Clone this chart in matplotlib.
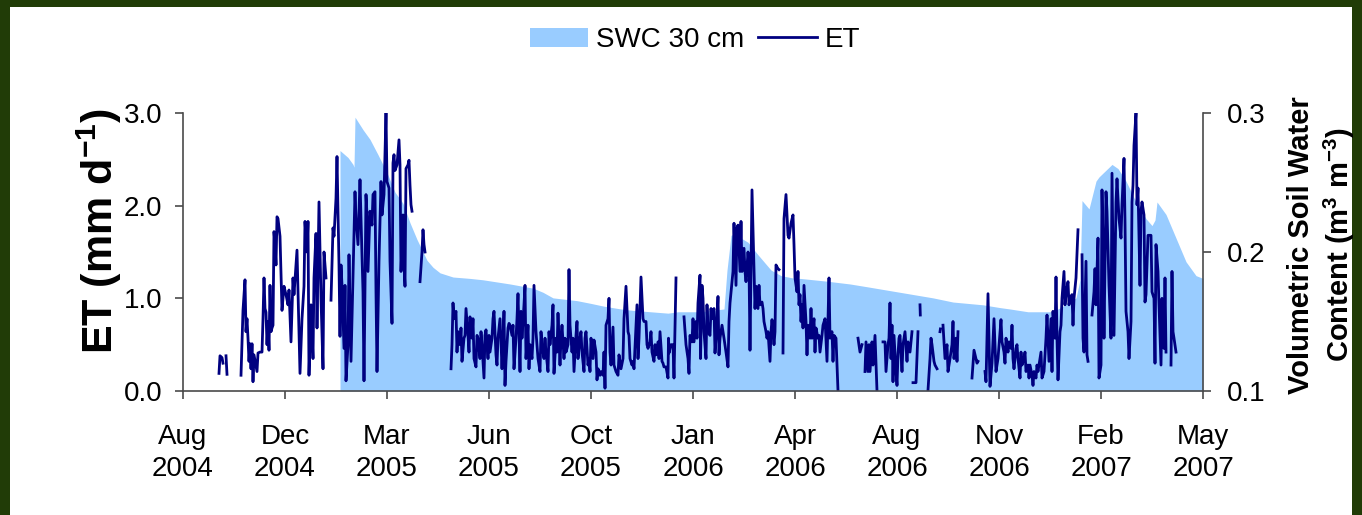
import math
import matplotlib
matplotlib.use("Agg")
import matplotlib.pyplot as plt
from matplotlib.patches import Rectangle

plt.rcParams['font.family'] = ['Liberation Sans', 'DejaVu Sans']
plt.rcParams['mathtext.fontset'] = 'custom'
plt.rcParams['mathtext.rm'] = 'Liberation Sans'
plt.rcParams['mathtext.bf'] = 'Liberation Sans:bold'
plt.rcParams['mathtext.it'] = 'Liberation Sans:italic'

# ---------------- data ----------------
# x = days since start of the axis (Aug 2004); ticks every 102 days
x_tick_days = [0, 102, 204, 306, 408, 510, 612, 714, 816, 918, 1020]
x_tick_labels = ["Aug\n2004", "Dec\n2004", "Mar\n2005", "Jun\n2005", "Oct\n2005",
                 "Jan\n2006", "Apr\n2006", "Aug\n2006", "Nov\n2006", "Feb\n2007", "May\n2007"]
et_ticks = [0.0, 1.0, 2.0, 3.0]
swc_ticks = [0.1, 0.2, 0.3]

# SWC 30 cm (m3 m-3)
swc_day = [157, 165, 170, 171, 172, 180, 187, 195, 204, 212, 220, 227, 234, 244, 250, 257,
           270, 287, 300, 327, 350, 360, 370, 394, 408, 421, 438, 450, 485, 495, 500, 517,
           541, 544, 548, 551, 565, 575, 588, 598, 612, 617, 644, 667, 684, 717, 750, 770,
           800, 817, 827, 845, 870, 880, 893, 897, 899, 906, 913, 916, 929, 935, 943, 953,
           963, 969, 972, 974, 983, 993, 1003, 1013, 1020]
swc_val = [0.273, 0.268, 0.263, 0.261, 0.297, 0.288, 0.281, 0.270, 0.257, 0.243, 0.235, 0.221,
           0.209, 0.194, 0.189, 0.185, 0.182, 0.181, 0.180, 0.177, 0.174, 0.171, 0.167, 0.165,
           0.163, 0.161, 0.159, 0.158, 0.156, 0.157, 0.157, 0.157, 0.159, 0.187, 0.212, 0.213,
           0.207, 0.198, 0.187, 0.183, 0.181, 0.181, 0.179, 0.177, 0.175, 0.171, 0.167, 0.164,
           0.162, 0.160, 0.159, 0.157, 0.157, 0.161, 0.167, 0.180, 0.237, 0.231, 0.251, 0.254,
           0.263, 0.260, 0.251, 0.236, 0.224, 0.219, 0.223, 0.236, 0.227, 0.210, 0.193, 0.183,
           0.181]

# ET (mm d-1); None marks a gap in the record
et_series = [
    (36, 0.19), (37, 0.38), (39, 0.36), (40, 0.30), None,
    (43, 0.38), (44, 0.18), None,
    (58, 0.17), (60, 0.87), (62, 1.20), (63, 0.64), (64, 0.78), (65, 0.57), (66, 0.32),
    (67, 0.51), (68, 0.24), (69, 0.51), (70, 0.10), (71, 0.39), (72, 0.33), (74, 0.21),
    (75, 0.41), (77, 0.42), (79, 0.42), (80, 0.78), (81, 1.22), (82, 0.89), (83, 0.85),
    (84, 0.50), (85, 0.75), (86, 0.44), (87, 1.14), (88, 0.64), (89, 0.68), (90, 0.71),
    (91, 1.72), (92, 1.58), (93, 1.36), (94, 1.88), (95, 1.86), (97, 1.67), (99, 0.87),
    (101, 1.13), (103, 1.04), (105, 0.93), (106, 1.09), (108, 0.53), (110, 1.22),
    (111, 1.04), (113, 1.36), (114, 1.52), (116, 0.60), (117, 0.19), (119, 0.78),
    (121, 1.13), (122, 1.83), (124, 1.50), (125, 1.83), (126, 0.17), (128, 0.93),
    (130, 0.35), (131, 1.22), (133, 1.70), (134, 0.68), (136, 2.04), (138, 1.00),
    (140, 0.24), (141, 1.50), (143, 1.22), None,
    (148, 0.98), (150, 1.76), (151, 1.67), (153, 2.08), (154, 2.53), (156, 1.36),
    (157, 0.59), (158, 1.36), (159, 1.14), (161, 0.46), (162, 1.14), (163, 0.11),
    (165, 0.50), (166, 1.47), (167, 0.89), (168, 0.32), (170, 1.25), (172, 2.15),
    (173, 1.86), (175, 1.58), (177, 2.28), (178, 1.86), (180, 1.07), (181, 0.11),
    (183, 2.12), (184, 1.90), (185, 1.29), (187, 1.94), (189, 1.79), (190, 2.12),
    (192, 2.15), (193, 1.07), (194, 0.21), (196, 1.40), (198, 2.26), (199, 1.90),
    (201, 2.12), (203, 3.00), (204, 2.26), (206, 2.19), (207, 1.40), (209, 0.73),
    (210, 2.46), (211, 2.55), (212, 2.38), (214, 2.44), (216, 2.71), (217, 2.44),
    (218, 1.29), (220, 1.90), (221, 1.36), (222, 1.13), (223, 2.40), (225, 2.44),
    (226, 2.49), (227, 2.22), (228, 2.01), (229, 1.94), None,
    (237, 1.18), (239, 1.50), (240, 1.74), (241, 1.58), (242, 1.50), None,
    (268, 0.24), (269, 0.50), (270, 0.95), (271, 0.78), (273, 0.86), (274, 0.42),
    (275, 0.64), (277, 0.50), (278, 0.68), (279, 0.32), (281, 0.57), (282, 0.60),
    (283, 0.89), (285, 0.60), (286, 0.42), (287, 0.80), (289, 0.57), (290, 0.78),
    (291, 0.35), (293, 0.26), (294, 0.60), (295, 0.57), (297, 0.35), (298, 0.64),
    (299, 0.50), (301, 0.14), (302, 0.60), (303, 0.66), (305, 0.35), (306, 0.60),
    (307, 0.42), (309, 0.57), (310, 0.78), (311, 0.86), (313, 0.39), (314, 0.28),
    (315, 0.57), (317, 0.78), (318, 0.53), (319, 0.24), (321, 0.86), (322, 0.06),
    (323, 0.32), (325, 0.68), (326, 0.73), (327, 0.71), (329, 0.60), (330, 0.71),
    (331, 0.24), (333, 0.57), (334, 0.78), (335, 1.05), (337, 0.21), (338, 0.86),
    (339, 0.57), (341, 0.93), (342, 1.14), (343, 0.35), (345, 0.71), (346, 0.24),
    (347, 0.50), (349, 0.35), (350, 0.57), (351, 1.14), (353, 0.64), (354, 0.50),
    (355, 0.35), (357, 0.21), (358, 0.64), (359, 0.50), (361, 0.35), (362, 0.57),
    (363, 0.42), (365, 0.21), (366, 0.64), (367, 0.50), (369, 0.71), (370, 0.93),
    (371, 0.19), (373, 0.57), (374, 0.42), (375, 0.84), (377, 0.28), (378, 0.57),
    (379, 0.71), (381, 0.35), (382, 0.57), (383, 0.42), (385, 0.50), (386, 1.31),
    (387, 0.71), (389, 0.42), (390, 0.57), (391, 0.21), (393, 0.60), (394, 0.75),
    (395, 0.35), (397, 0.57), (398, 0.64), (399, 0.42), (401, 0.21), (402, 0.57),
    (403, 0.64), (405, 0.28), (406, 0.35), (407, 0.21), (408, 0.57), (410, 0.35),
    (411, 0.55), (413, 0.42), (414, 0.12), (415, 0.24), (417, 0.17), (418, 0.21),
    (420, 0.17), (421, 0.42), (422, 0.03), (423, 0.71), (425, 0.78), (426, 1.00),
    (427, 0.42), (428, 0.28), (430, 0.69), (431, 0.28), (433, 0.21), (435, 0.17),
    (436, 0.39), (438, 0.24), (440, 0.35), (441, 0.78), (443, 1.13), (445, 0.64),
    (446, 0.60), (447, 0.35), (449, 0.28), (450, 0.32), (451, 0.24), (453, 0.71),
    (454, 0.93), (455, 0.35), (456, 0.57), (458, 1.23), (460, 0.78), (461, 0.75),
    (463, 0.75), (464, 0.50), (465, 0.46), (467, 0.53), (468, 0.64), (469, 0.42),
    (471, 0.32), (472, 0.50), (473, 0.39), (475, 0.53), (476, 0.35), (477, 0.64),
    (479, 0.32), (480, 0.30), (481, 0.26), (483, 0.26), (485, 0.14), (485.5, 0.57),
    (486, 0.41), (488, 0.50), (490, 0.50), (491, 0.14), (492, 0.71), (493, 1.22), None,
    (501, 0.80), (503, 0.50), (505, 0.35), (506, 0.19), (507, 0.60), (509, 0.53),
    (510, 0.78), (511, 0.53), (513, 0.75), (514, 0.57), (515, 0.95), (517, 1.25),
    (517.5, 0.35), (519, 1.14), (520, 1.00), (521, 0.64), (523, 0.35), (524, 0.93),
    (525, 0.64), (527, 0.60), (528, 0.89), (529, 0.78), (531, 0.89), (532, 0.41),
    (533, 0.57), (535, 1.02), (536, 0.39), (537, 0.57), (539, 0.71), (540, 0.64),
    (541, 0.57), (543, 0.42), (545, 0.26), (546, 0.75), (547, 0.95), (550, 1.29),
    (551, 1.81), (553, 1.14), (554, 1.76), (555, 1.79), (557, 1.29), (558, 1.83),
    (559, 1.29), (561, 1.54), (562, 1.29), (563, 1.18), (565, 1.50), (566, 1.36),
    (567, 0.44), (569, 2.17), (571, 1.29), (572, 0.89), (573, 1.13), (575, 0.89),
    (576, 1.14), (577, 0.93), (579, 0.96), (580, 0.89), (581, 0.75), (583, 0.64),
    (584, 0.57), (585, 0.64), (587, 0.32), (588, 0.64), (589, 0.77), (591, 0.50),
    (592, 0.64), (593, 1.36), (595, 1.32), (596, 1.31), None,
    (600, 0.41), (601, 1.86), (603, 2.12), (605, 1.68), (606, 1.65), (608, 1.81),
    (610, 1.90), (611, 1.58), (612, 1.22), (614, 1.07), (615, 1.29), (616, 0.93),
    (617, 1.04), (618, 0.75), (619, 0.93), (620, 0.68), (621, 1.14), (623, 0.75),
    (624, 0.39), (625, 0.71), (627, 0.57), (628, 0.89), (629, 0.57), (631, 0.78),
    (632, 0.42), (633, 0.68), (635, 0.57), (636, 0.60), (637, 0.42), (639, 0.60),
    (640, 0.71), (642, 0.78), (644, 0.32), (645, 0.78), (646, 1.22), (647, 0.57),
    (649, 0.64), (650, 0.32), (651, 0.60), (653, 0.57), (655, 0.00), None,
    (675, 0.57), (677, 0.42), (679, 0.50), None,
    (682, 0.21), (683, 0.53), (685, 0.21), (686, 0.50), (687, 0.21), (689, 0.53),
    (690, 0.28), (692, 0.60), (694, 0.00), None,
    (700, 0.53), (702, 0.53), (703, 0.21), (705, 0.50), (706, 0.57), (707, 0.95),
    (708, 0.35), (709, 0.71), (710, 0.10), (711, 0.60), (713, 0.21), (714, 0.06),
    (715, 0.39), (716, 0.57), (717, 0.60), (719, 0.21), (720, 0.50), (722, 0.64),
    (724, 0.32), (725, 0.53), (727, 0.42), (729, 0.64), None,
    (730, 0.09), (733, 0.09), (735, 0.64), None,
    (737, 0.93), (737.3, 0.82), None,
    (745, 0.01), (747, 0.35), (748, 0.57), (749, 0.50), (751, 0.32), (752, 0.28),
    (754, 0.24), None,
    (757, 0.64), (757.4, 0.67), None,
    (760, 0.71), (762, 0.35), (764, 0.50), (765, 0.21), (767, 0.35), (769, 0.50),
    (770, 0.75), (771, 0.35), (773, 0.57), (774, 0.32), (775, 0.64), None,
    (789, 0.14), (791, 0.44), (794, 0.30), (795, 0.32), None,
    (802, 0.21), (803, 0.10), (805, 1.05), (807, 0.05), (809, 0.30), (811, 0.78),
    (813, 0.21), (815, 0.35), (818, 0.77), (819, 0.53), (821, 0.42), (822, 0.30),
    (823, 0.57), (825, 0.42), (826, 0.53), (828, 0.46), (829, 0.71), (830, 0.35),
    (831, 0.24), (833, 0.46), (834, 0.50), (835, 0.35), (837, 0.14), (838, 0.42),
    (839, 0.28), (841, 0.35), (842, 0.42), (843, 0.21), (845, 0.28), (846, 0.14),
    (847, 0.28), (849, 0.17), (850, 0.06), (851, 0.21), (853, 0.14), (854, 0.28),
    (855, 0.21), (857, 0.35), (858, 0.42), (859, 0.14), (861, 0.21), (863, 0.57),
    (864, 0.82), (866, 0.32), (868, 0.78), (869, 0.21), (870, 0.86), (872, 0.57),
    (873, 1.23), (874, 0.57), (875, 0.12), (877, 0.64), (878, 0.71), (879, 1.00),
    (881, 1.29), (882, 0.93), (883, 1.04), (885, 1.18), (886, 0.93), (887, 1.00),
    (889, 1.04), (890, 0.71), (891, 1.00), (893, 1.22), (895, 1.74), None,
    (899, 1.47), (900, 0.57), (901, 0.42), (903, 1.40), (904, 0.39), (905, 0.32), None,
    (909, 0.82), (911, 1.07), (912, 1.32), (913, 0.93), (915, 1.65), (916, 0.14),
    (918, 0.28), (919, 2.17), (920, 1.58), (921, 0.57), (923, 2.15), (924, 1.94),
    (926, 1.14), (928, 0.57), (929, 2.35), (931, 0.60), (933, 2.04), (934, 2.29),
    (936, 1.86), (938, 1.65), (939, 2.01), (941, 2.51), (942, 1.83), (943, 0.86),
    (945, 0.64), (946, 0.35), (948, 0.75), (949, 2.04), (950, 2.22), (951, 2.65),
    (953, 3.00), (954, 2.01), (955, 2.19), (957, 1.14), (958, 1.94), (959, 2.04),
    (961, 1.90), (962, 0.96), (963, 1.04), (965, 1.68), (968, 1.68), (969, 1.07),
    (971, 1.00), (972, 0.30), (973, 1.58), (975, 1.29), (976, 0.93), (978, 0.28),
    (979, 1.00), (981, 0.46), (982, 1.22), (983, 0.42), None,
    (988, 0.28), (989, 1.29), (990, 0.64), (991, 0.57), (993, 0.42),
]

et_day = [p[0] if p else math.nan for p in et_series]
et_mm = [p[1] if p else math.nan for p in et_series]

# ---------------- figure ----------------
W, H = 1362, 515
fig = plt.figure(figsize=(W / 100, H / 100), dpi=100, facecolor='#213c07')
fig.patches.append(Rectangle((10 / W, 0), 1342 / W, 508 / H, transform=fig.transFigure,
                             facecolor='white', edgecolor='none', zorder=-10))

ax = fig.add_axes([183 / W, 124 / H, 1020 / W, 278 / H])
ax2 = ax.twinx()

swc_col = '#99CCFF'
et_col = '#000080'
spine_col = '#4a4a4a'

ax2.fill_between(swc_day, 0.1, swc_val, color=swc_col, lw=0, label='SWC 30 cm')
ax.plot(et_day, et_mm, color=et_col, lw=2.0, label='ET', solid_joinstyle='round')

ax.set_zorder(ax2.get_zorder() + 1)
ax.patch.set_visible(False)
ax2.patch.set_visible(False)

ax.set_xlim(0, 1020)
ax.set_ylim(0, 3.0)
ax2.set_ylim(0.1, 0.3)

ax.set_xticks(x_tick_days)
ax.set_xticklabels(x_tick_labels, linespacing=1.3)
ax.set_yticks(et_ticks)
ax.set_yticklabels([f"{v:.1f}" for v in et_ticks])
ax2.set_yticks(swc_ticks)
ax2.set_yticklabels([f"{v:.1f}" for v in swc_ticks])

for a in (ax, ax2):
    a.spines['top'].set_visible(False)
    for s in ('left', 'right', 'bottom'):
        a.spines[s].set_color(spine_col)
        a.spines[s].set_linewidth(1.2)
ax.spines['right'].set_visible(False)
ax2.spines['left'].set_visible(False)
ax2.spines['bottom'].set_visible(False)

ax.tick_params(axis='x', direction='out', length=6, width=1.2, color=spine_col,
               labelsize=20, pad=18)
ax.tick_params(axis='y', direction='out', length=6, width=1.2, color=spine_col,
               labelsize=20, pad=9)
ax2.tick_params(axis='y', direction='out', length=6, width=1.2, color=spine_col,
                labelsize=20, pad=11)

fig.text(99 / W, 1 - 231 / H, r'ET (mm d$^{\mathbf{-1}}$)', rotation=90,
         ha='center', va='center', fontsize=31, fontweight='bold')
fig.text(1322 / W, 1 - 245 / H,
         'Volumetric Soil Water\n' + r'Content (m$^{\mathbf{3}}$ m$^{\mathbf{-3}}$)',
         rotation=90, ha='center', va='center', ma='center', fontsize=21,
         fontweight='bold', linespacing=1.25)

h2, l2 = ax2.get_legend_handles_labels()
h1, l1 = ax.get_legend_handles_labels()
fig.legend(h2 + h1, l2 + l1, loc='center', bbox_to_anchor=(695 / W, 1 - 40 / H),
           ncol=2, frameon=False, fontsize=20, handlelength=2.1, handletextpad=0.3,
           columnspacing=0.5)

fig.savefig('out.png', dpi=100, facecolor=fig.get_facecolor())
